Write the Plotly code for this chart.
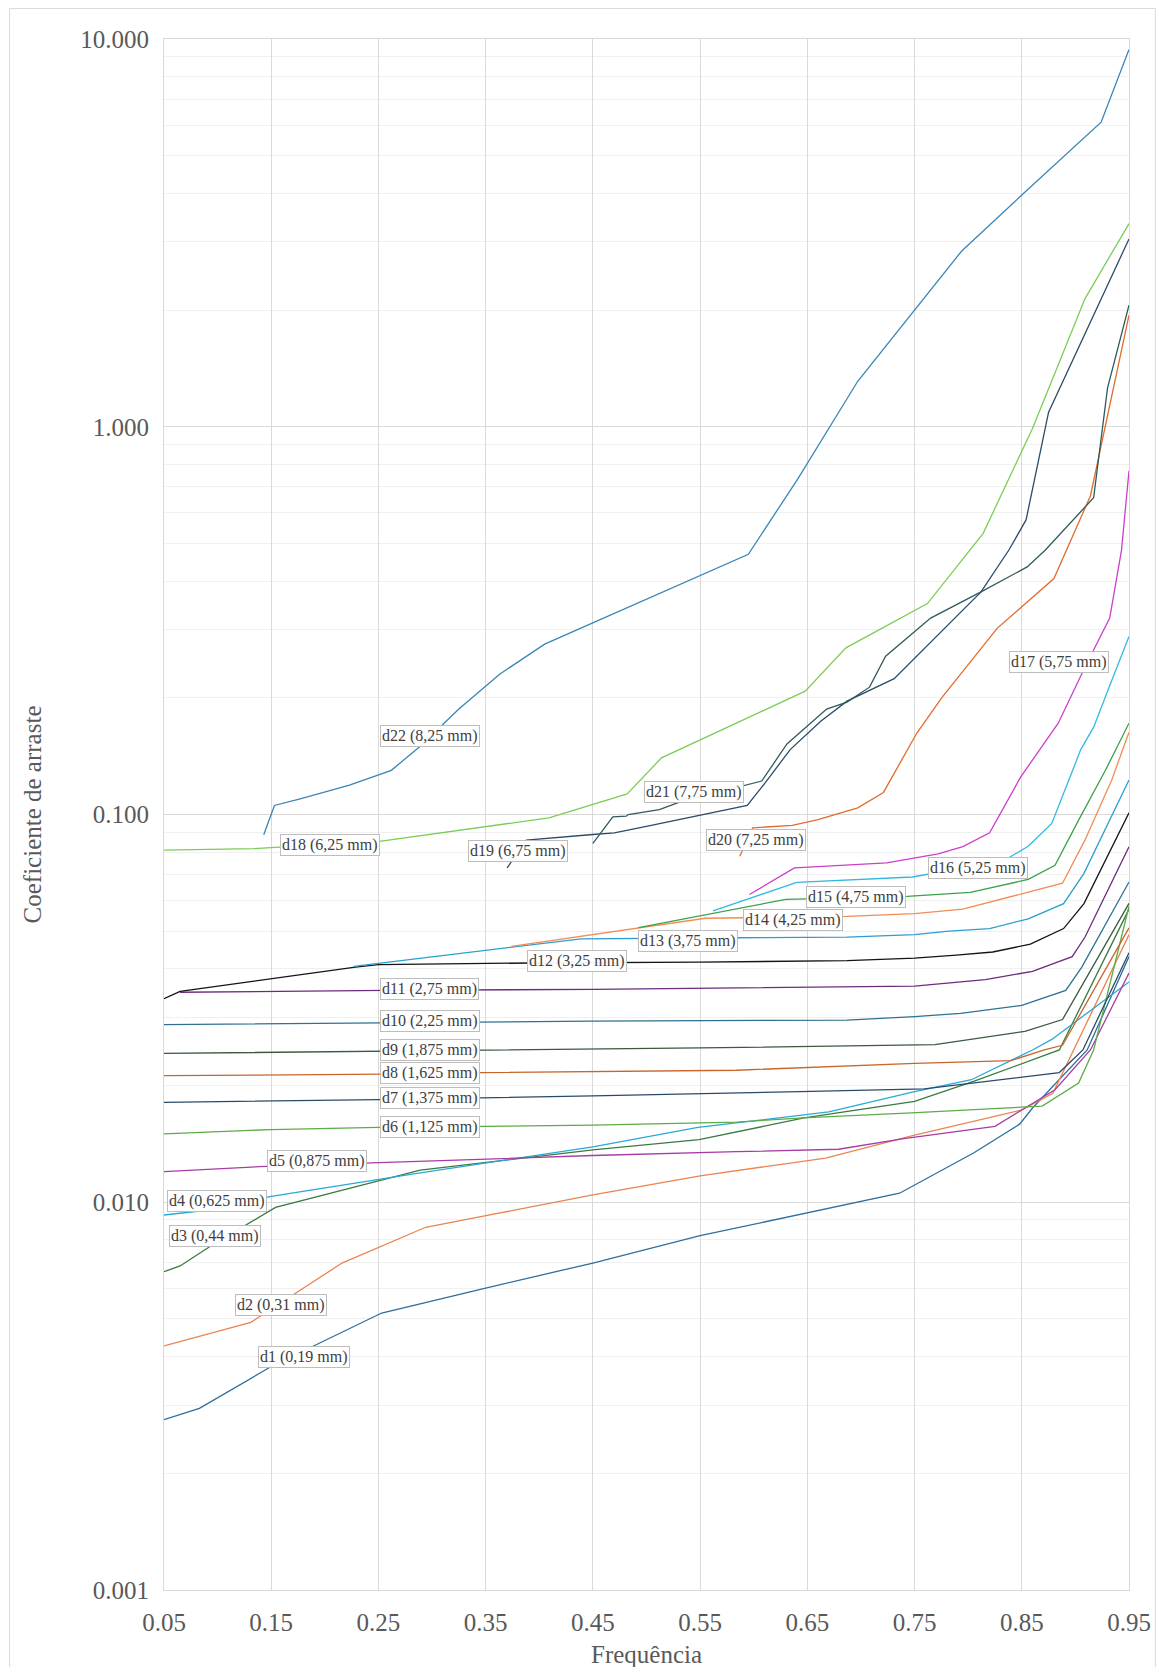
import math
import plotly.graph_objects as go

# ---------------- data ----------------
names = ["d1 (0,19 mm)", "d2 (0,31 mm)", "d3 (0,44 mm)", "d4 (0,625 mm)", "d5 (0,875 mm)",
         "d6 (1,125 mm)", "d7 (1,375 mm)", "d8 (1,625 mm)", "d9 (1,875 mm)", "d10 (2,25 mm)",
         "d11 (2,75 mm)", "d12 (3,25 mm)", "d13 (3,75 mm)", "d14 (4,25 mm)", "d15 (4,75 mm)",
         "d16 (5,25 mm)", "d17 (5,75 mm)", "d18 (6,25 mm)", "d19 (6,75 mm)", "d20 (7,25 mm)",
         "d21 (7,75 mm)", "d22 (8,25 mm)"]

d1_x = [0.05, 0.083, 0.15, 0.253, 0.349, 0.45, 0.55, 0.65, 0.736, 0.805, 0.848, 0.86, 0.911, 0.95]
d1_y = [0.00275, 0.00294, 0.00377, 0.00518, 0.0060, 0.00697, 0.0082, 0.00937, 0.01055, 0.0134, 0.0159, 0.0175, 0.0247, 0.043]

d2_x = [0.05, 0.131, 0.216, 0.294, 0.349, 0.45, 0.55, 0.667, 0.75, 0.85, 0.879, 0.95]
d2_y = [0.00426, 0.0049, 0.00697, 0.00862, 0.00922, 0.01045, 0.0117, 0.0130, 0.0149, 0.0173, 0.0191, 0.049]

d3_x = [0.05, 0.065, 0.095, 0.154, 0.289, 0.45, 0.549, 0.647, 0.75, 0.805, 0.885, 0.95]
d3_y = [0.00662, 0.00685, 0.00776, 0.0097, 0.0121, 0.01365, 0.0145, 0.0165, 0.0182, 0.0205, 0.0247, 0.057]

d4_x = [0.05, 0.092, 0.15, 0.289, 0.45, 0.548, 0.67, 0.75, 0.803, 0.86, 0.878, 0.95]
d4_y = [0.00927, 0.00955, 0.01035, 0.0119, 0.0139, 0.0156, 0.0171, 0.0193, 0.0207, 0.0247, 0.0263, 0.037]

d5_x = [0.05, 0.15, 0.251, 0.45, 0.584, 0.679, 0.74, 0.825, 0.881, 0.914, 0.95]
d5_y = [0.0120, 0.0124, 0.01265, 0.0132, 0.0135, 0.0137, 0.0146, 0.0157, 0.0195, 0.0247, 0.039]

d6_x = [0.05, 0.15, 0.25, 0.45, 0.584, 0.646, 0.747, 0.869, 0.903, 0.917, 0.95]
d6_y = [0.0150, 0.0154, 0.0156, 0.0158, 0.0161, 0.0165, 0.0170, 0.0177, 0.0203, 0.0247, 0.058]

d7_x = [0.05, 0.25, 0.45, 0.584, 0.643, 0.759, 0.885, 0.907, 0.95]
d7_y = [0.0181, 0.0184, 0.0188, 0.0192, 0.0193, 0.0196, 0.0216, 0.0247, 0.044]

d8_x = [0.05, 0.255, 0.344, 0.584, 0.75, 0.84, 0.871, 0.888, 0.95]
d8_y = [0.0212, 0.0214, 0.0216, 0.0219, 0.0228, 0.0232, 0.0247, 0.0254, 0.051]

d9_x = [0.05, 0.25, 0.45, 0.55, 0.769, 0.853, 0.888, 0.95]
d9_y = [0.0242, 0.0245, 0.0248, 0.025, 0.0255, 0.0276, 0.0296, 0.059]

d10_x = [0.05, 0.25, 0.448, 0.687, 0.75, 0.793, 0.85, 0.891, 0.906, 0.95]
d10_y = [0.0287, 0.029, 0.0293, 0.0295, 0.0301, 0.0307, 0.0322, 0.0352, 0.0404, 0.067]

d11_x = [0.065, 0.257, 0.45, 0.687, 0.75, 0.816, 0.86, 0.897, 0.909, 0.95]
d11_y = [0.0348, 0.0352, 0.0354, 0.036, 0.0361, 0.0375, 0.0394, 0.043, 0.0483, 0.0826]

d12_x = [0.05, 0.065, 0.2285, 0.25, 0.391, 0.55, 0.687, 0.75, 0.789, 0.823, 0.858, 0.889, 0.908, 0.95]
d12_y = [0.0335, 0.035, 0.0404, 0.041, 0.0414, 0.0416, 0.042, 0.0426, 0.0434, 0.0442, 0.0463, 0.0508, 0.0589, 0.101]

d13_x = [0.227, 0.35, 0.439, 0.584, 0.687, 0.75, 0.782, 0.82, 0.856, 0.889, 0.908, 0.95]
d13_y = [0.0406, 0.0447, 0.0478, 0.0481, 0.0483, 0.049, 0.050, 0.0508, 0.0538, 0.0589, 0.0705, 0.1227]

d14_x = [0.374, 0.45, 0.555, 0.687, 0.75, 0.795, 0.832, 0.888, 0.909, 0.934, 0.95]
d14_y = [0.0457, 0.049, 0.054, 0.0546, 0.0555, 0.057, 0.0605, 0.0665, 0.086, 0.123, 0.163]

d15_x = [0.4925, 0.584, 0.63, 0.743, 0.802, 0.856, 0.881, 0.903, 0.928, 0.95]
d15_y = [0.0511, 0.0571, 0.0604, 0.0615, 0.063, 0.068, 0.074, 0.0967, 0.130, 0.172]

d16_x = [0.562, 0.64, 0.748, 0.833, 0.856, 0.878, 0.905, 0.917, 0.934, 0.95]
d16_y = [0.0564, 0.0668, 0.069, 0.076, 0.0828, 0.0948, 0.147, 0.168, 0.222, 0.288]

d17_x = [0.596, 0.638, 0.724, 0.772, 0.795, 0.82, 0.849, 0.884, 0.909, 0.932, 0.943, 0.95]
d17_y = [0.0622, 0.0728, 0.075, 0.0792, 0.0826, 0.0897, 0.125, 0.172, 0.240, 0.321, 0.48, 0.77]

d18_x = [0.05, 0.134, 0.251, 0.409, 0.482, 0.514, 0.648, 0.686, 0.762, 0.814, 0.860, 0.909, 0.95]
d18_y = [0.0809, 0.0817, 0.0853, 0.098, 0.113, 0.140, 0.208, 0.269, 0.350, 0.531, 0.99, 2.14, 3.34]

d19_x = [0.370, 0.388, 0.45, 0.47, 0.501, 0.594, 0.611, 0.634, 0.6625, 0.687, 0.731, 0.812, 0.838, 0.854, 0.875, 0.95]
d19_y = [0.0728, 0.0859, 0.0888, 0.0897, 0.0933, 0.1055, 0.121, 0.147, 0.174, 0.196, 0.224, 0.375, 0.481, 0.575, 1.09, 3.05]

d20_x = [0.587, 0.599, 0.636, 0.66, 0.697, 0.721, 0.752, 0.776, 0.827, 0.880, 0.914, 0.95]
d20_y = [0.078, 0.0924, 0.0937, 0.097, 0.104, 0.114, 0.162, 0.201, 0.302, 0.406, 0.663, 1.94]

d21_x = [0.45, 0.4686, 0.481, 0.483, 0.512, 0.532, 0.6075, 0.631, 0.668, 0.687, 0.708, 0.723, 0.765, 0.812, 0.855, 0.872, 0.917, 0.930, 0.95]
d21_y = [0.0842, 0.0986, 0.099, 0.100, 0.103, 0.108, 0.122, 0.152, 0.187, 0.195, 0.213, 0.256, 0.321, 0.375, 0.435, 0.481, 0.656, 1.26, 2.06]

d22_x = [0.143, 0.153, 0.177, 0.223, 0.262, 0.289, 0.325, 0.363, 0.405, 0.595, 0.641, 0.697, 0.794, 0.85, 0.924, 0.95]
d22_y = [0.0887, 0.1055, 0.1097, 0.119, 0.130, 0.150, 0.187, 0.230, 0.275, 0.469, 0.733, 1.31, 2.84, 3.96, 6.1, 9.4]

xs = [d1_x, d2_x, d3_x, d4_x, d5_x, d6_x, d7_x, d8_x, d9_x, d10_x, d11_x,
      d12_x, d13_x, d14_x, d15_x, d16_x, d17_x, d18_x, d19_x, d20_x, d21_x, d22_x]
ys = [d1_y, d2_y, d3_y, d4_y, d5_y, d6_y, d7_y, d8_y, d9_y, d10_y, d11_y,
      d12_y, d13_y, d14_y, d15_y, d16_y, d17_y, d18_y, d19_y, d20_y, d21_y, d22_y]

x_ticks = [0.05, 0.15, 0.25, 0.35, 0.45, 0.55, 0.65, 0.75, 0.85, 0.95]
x_ticktext = ["0.05", "0.15", "0.25", "0.35", "0.45", "0.55", "0.65", "0.75", "0.85", "0.95"]
y_ticks = [0.001, 0.01, 0.1, 1, 10]
y_ticktext = ["0.001", "0.010", "0.100", "1.000", "10.000"]

# ---------------- styling / layout ----------------
colors = ["#2f6e9c", "#ea8450", "#3a7a40", "#2aa8d8", "#a63ca6",
          "#5cab48", "#2a4a6a", "#c9652c", "#3b5a40", "#2e7192",
          "#6b2c7c", "#141414", "#2b9fd0", "#f08c55", "#3ba24b",
          "#32b9e0", "#cc3fcc", "#7ccd56", "#2d4b68", "#e26c2c",
          "#2f5a5c", "#3a86b6"]

label_pos = [(0.181, 0.00398), (0.159, 0.00543), (0.098, 0.00816), (0.099, 0.0101),
             (0.1926, 0.0128), (0.298, 0.01567), (0.298, 0.0186), (0.298, 0.0215),
             (0.298, 0.0247), (0.298, 0.0294), (0.298, 0.0355), (0.435, 0.0419),
             (0.539, 0.0473), (0.637, 0.0533), (0.695, 0.0612), (0.809, 0.0726),
             (0.885, 0.248), (0.2047, 0.0836), (0.380, 0.0806), (0.602, 0.0857),
             (0.544, 0.1146), (0.298, 0.159)]

FONT = "Liberation Serif, Times New Roman, serif"

fig = go.Figure()
for name, x, y, c in zip(names, xs, ys, colors):
    fig.add_trace(go.Scatter(x=x, y=y, mode="lines", name=name,
                             line=dict(color=c, width=1.3), showlegend=False))

annotations = []
for name, (lx, ly) in zip(names, label_pos):
    annotations.append(dict(x=lx, y=math.log10(ly), xref="x", yref="y", text=name,
                            showarrow=False, font=dict(family=FONT, size=16, color="#404040"),
                            bgcolor="rgba(255,255,255,0.95)", bordercolor="#bdbdbd",
                            borderwidth=1, borderpad=1))

annotations.append(dict(x=-0.1358, y=0.5, xref="paper", yref="paper", text="Coeficiente de arraste",
                        textangle=-90, showarrow=False, xanchor="center", yanchor="middle",
                        font=dict(family=FONT, size=25, color="#595959")))
annotations.append(dict(x=0.5, y=-0.0418, xref="paper", yref="paper", text="Frequência",
                        showarrow=False, xanchor="center", yanchor="middle",
                        font=dict(family=FONT, size=25, color="#595959")))

fig.update_layout(
    width=1155, height=1659,
    margin=dict(l=156, r=27, t=31, b=77),
    paper_bgcolor="white", plot_bgcolor="white",
    annotations=annotations,
    shapes=[dict(type="rect", xref="paper", yref="paper", x0=-0.1600, x1=1.0273,
                 y0=-0.0600, y1=1.0197, line=dict(color="#d9d9d9", width=1))],
)
fig.update_xaxes(range=[0.05, 0.95], tickvals=x_ticks, ticktext=x_ticktext,
                 showgrid=True, gridcolor="#d9d9d9", gridwidth=1, zeroline=False,
                 showline=True, linecolor="#d9d9d9", mirror=True, ticks="",
                 ticklabelstandoff=10,
                 tickfont=dict(family=FONT, size=25, color="#595959"))
fig.update_yaxes(type="log", range=[-3, 1], tickvals=y_ticks, ticktext=y_ticktext,
                 showgrid=True, gridcolor="#d9d9d9", gridwidth=1, zeroline=False,
                 showline=True, linecolor="#d9d9d9", mirror=True, ticks="",
                 ticklabelstandoff=9,
                 minor=dict(dtick="D1", showgrid=True, gridcolor="#f0f0f0", ticks=""),
                 tickfont=dict(family=FONT, size=25, color="#595959"))

fig.write_html("out.html")
